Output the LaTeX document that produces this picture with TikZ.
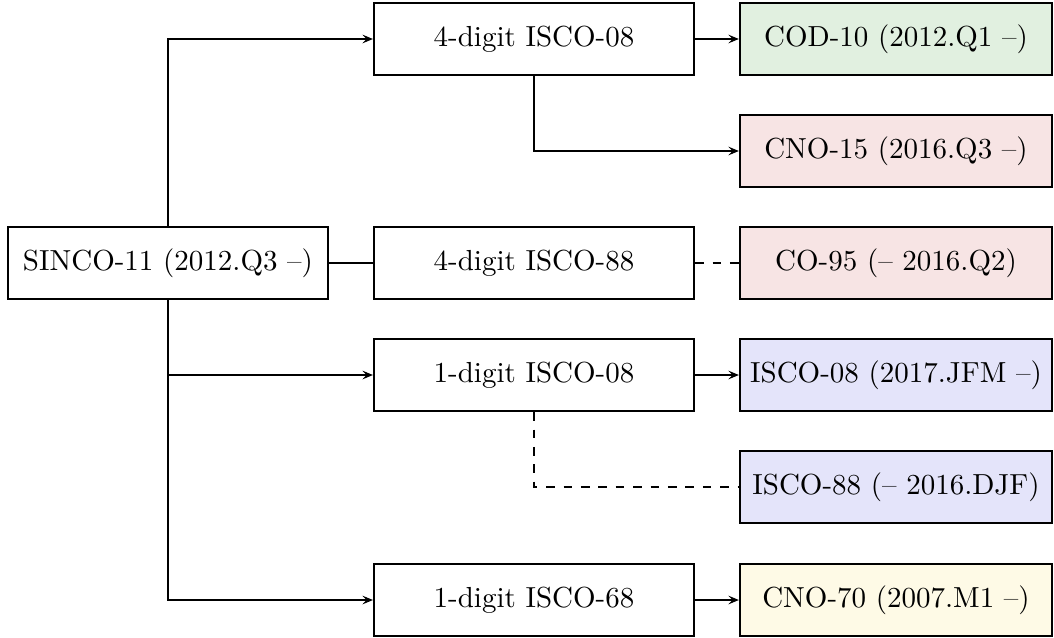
\documentclass[tikz,border=0pt]{standalone}
\usetikzlibrary{arrows.meta}
\definecolor{cgreen}{RGB}{225,240,224}
\definecolor{cred}{RGB}{247,228,228}
\definecolor{cblue}{RGB}{228,228,250}
\definecolor{cyellow}{RGB}{254,250,230}
\begin{document}
\begin{tikzpicture}[x=0.3448pt, y=-0.3448pt,
  box/.style={draw, thick, minimum width=110.3pt, minimum height=24.8pt, inner sep=0pt},
  rbox/.style={box, minimum width=107.6pt},
  conn/.style={draw, line width=0.4pt},
  arr/.style={conn, -{Stealth[length=3.6pt,width=3pt,inset=1.4pt]}},
  dsh/.style={conn, dash pattern=on 3pt off 3pt}
]
\useasboundingbox (0,0) rectangle (1054,637);
\node[box] (sinco) at (168,263) {SINCO-11 (2012.Q3 --)};
\node[box] (m1) at (534,39) {4-digit ISCO-08};
\node[box] (m2) at (534,263) {4-digit ISCO-88};
\node[box] (m3) at (534,375) {1-digit ISCO-08};
\node[box] (m4) at (534,600) {1-digit ISCO-68};
\node[rbox, fill=cgreen] (r1) at (896,39) {COD-10 (2012.Q1 --)};
\node[rbox, fill=cred] (r2) at (896,151) {CNO-15 (2016.Q3 --)};
\node[rbox, fill=cred] (r3) at (896,263) {CO-95 (-- 2016.Q2)};
\node[rbox, fill=cblue] (r4) at (896,375) {ISCO-08 (2017.JFM --)};
\node[rbox, fill=cblue] (r5) at (896,487) {ISCO-88 (-- 2016.DJF)};
\node[rbox, fill=cyellow] (r6) at (896,600) {CNO-70 (2007.M1 --)};
\draw[arr] (sinco.north) |- (m1.west);
\draw[arr] (sinco.south) |- (m3.west);
\draw[arr] (sinco.south) |- (m4.west);
\draw[conn] (sinco.east) -- (m2.west);
\draw[arr] (m1.east) -- (r1.west);
\draw[arr] (m1.south) |- (r2.west);
\draw[dsh] (m2.east) -- (r3.west);
\draw[arr] (m3.east) -- (r4.west);
\draw[dsh] (m3.south) |- (r5.west);
\draw[arr] (m4.east) -- (r6.west);
\end{tikzpicture}
\end{document}
